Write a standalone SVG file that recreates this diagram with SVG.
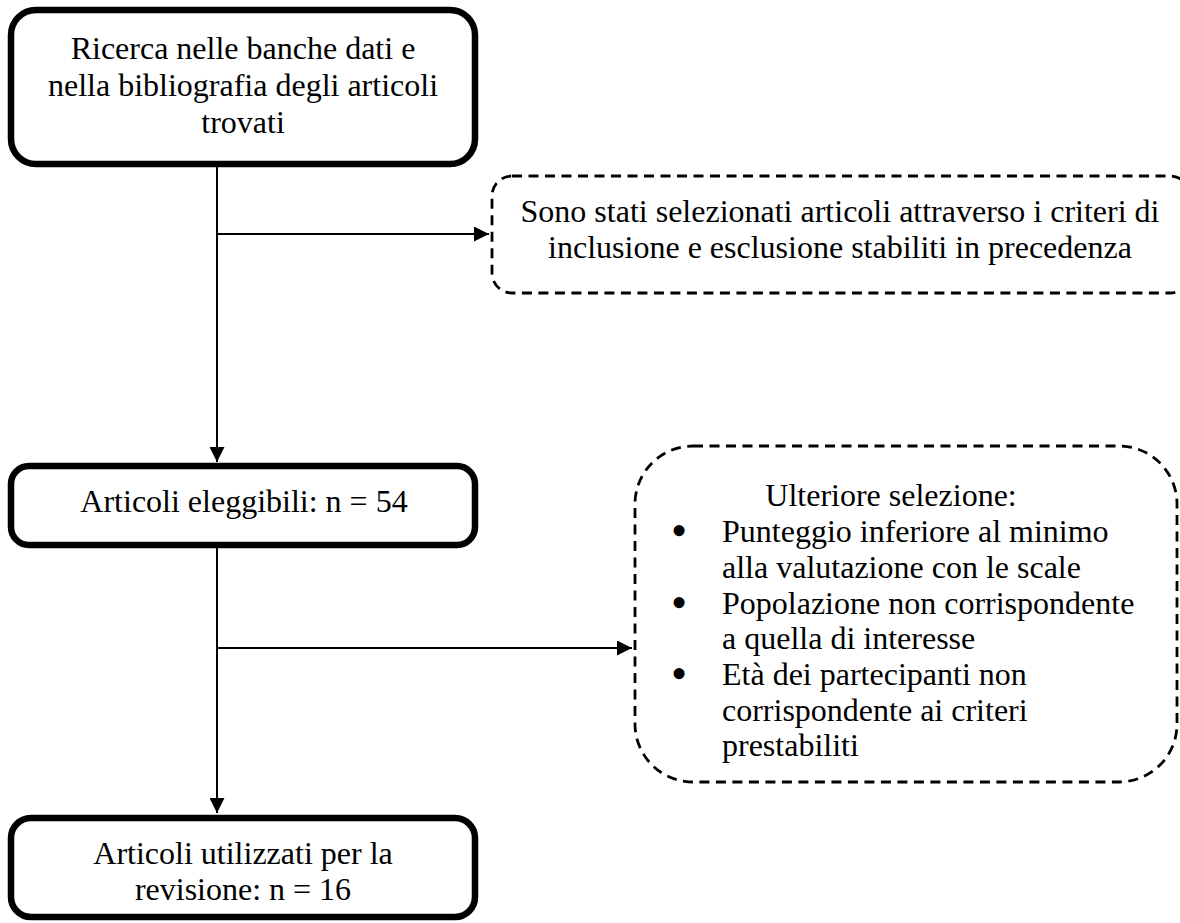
<svg xmlns="http://www.w3.org/2000/svg" width="1180" height="923" viewBox="0 0 1180 923">
<style>
.box{fill:#fff;stroke:#000;stroke-width:6.5}
.dash{fill:#fff;stroke:#000;stroke-width:2.8;stroke-dasharray:10 6.5}
.t{font-family:"Liberation Serif","Times New Roman",serif;font-size:32px;fill:#000}
.c{text-anchor:middle}
.b{font-family:"Liberation Serif","Times New Roman",serif;font-size:46px;fill:#000;text-anchor:middle}
.conn{stroke:#000;stroke-width:2;fill:none}
</style>
<defs>
<marker id="ah" markerWidth="15" markerHeight="15" refX="15" refY="7.5" orient="auto" markerUnits="userSpaceOnUse">
<path d="M0,0 L15,7.5 L0,15 Z" fill="#000"/>
</marker>
</defs>
<rect width="1180" height="923" fill="#fff"/>
<g id="connectors">
<line class="conn" x1="217" y1="167" x2="217" y2="462" marker-end="url(#ah)"/>
<line class="conn" x1="217" y1="234" x2="489" y2="234" marker-end="url(#ah)"/>
<line class="conn" x1="217" y1="548" x2="217" y2="813" marker-end="url(#ah)"/>
<line class="conn" x1="217" y1="648" x2="632" y2="648" marker-end="url(#ah)"/>
</g>
<g id="n1">
<rect class="box" x="11" y="10" width="464" height="154" rx="25"/>
<text class="t c" x="243" y="59">Ricerca nelle banche dati e</text>
<text class="t c" x="243" y="96">nella bibliografia degli articoli</text>
<text class="t c" x="243" y="133">trovati</text>
</g>
<g id="n2">
<rect class="dash" x="492" y="176" width="698" height="117" rx="20"/>
<text class="t c" x="840" y="222">Sono stati selezionati articoli attraverso i criteri di</text>
<text class="t c" x="840" y="258">inclusione e esclusione stabiliti in precedenza</text>
</g>
<g id="n3">
<rect class="box" x="11" y="466" width="464" height="79" rx="18"/>
<text class="t c" x="244" y="512">Articoli eleggibili: n = 54</text>
</g>
<g id="n4">
<rect class="dash" x="635" y="446" width="542" height="336" rx="58"/>
<text class="t c" x="891" y="506">Ulteriore selezione:</text>
<text class="b" x="679" y="546">•</text>
<text class="t" x="722" y="542">Punteggio inferiore al minimo</text>
<text class="t" x="722" y="578">alla valutazione con le scale</text>
<text class="b" x="679" y="618">•</text>
<text class="t" x="722" y="614">Popolazione non corrispondente</text>
<text class="t" x="722" y="649">a quella di interesse</text>
<text class="b" x="679" y="689">•</text>
<text class="t" x="722" y="685">Età dei partecipanti non</text>
<text class="t" x="722" y="721">corrispondente ai criteri</text>
<text class="t" x="722" y="756">prestabiliti</text>
</g>
<g id="n5">
<rect class="box" x="11" y="818" width="464" height="99" rx="20"/>
<text class="t c" x="243" y="864">Articoli utilizzati per la</text>
<text class="t c" x="243" y="900">revisione: n = 16</text>
</g>
</svg>
